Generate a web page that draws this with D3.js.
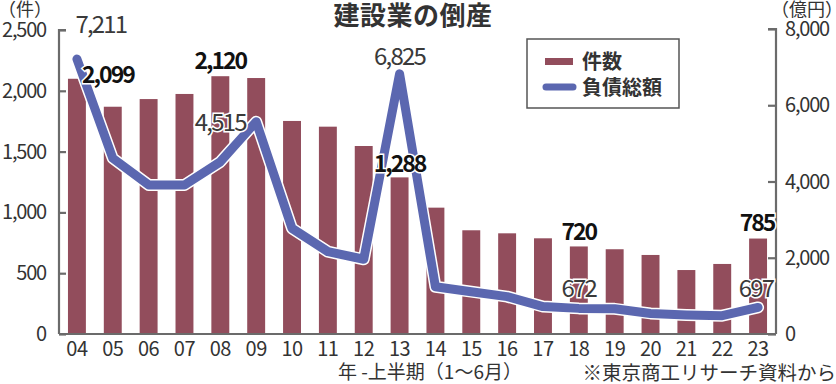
<!DOCTYPE html>
<html><head><meta charset="utf-8">
<script src="https://cdn.jsdelivr.net/npm/d3@7"></script>
<style>
body{margin:0;background:#fff;}
svg{display:block;}
text{font-family:"Noto Sans CJK JP","Noto Sans",sans-serif;}
</style></head><body>
<svg id="c" width="836" height="384"></svg>
<script>
const years = ["04","05","06","07","08","09","10","11","12","13","14","15","16","17","18","19","20","21","22","23"];
const counts = [2099,1869,1932,1974,2120,2105,1752,1705,1546,1288,1039,853,828,787,720,697,650,526,576,785];
const debts = [7211,4610,3910,3910,4515,5570,2770,2160,1960,6825,1240,1110,980,720,672,660,540,500,480,697];
const leftTicks = [0,500,1000,1500,2000,2500];
const rightTicks = [0,2000,4000,6000,8000];
const countLabelIdx = [0,4,9,14,19];
const debtLabelIdx = [0,4,9,14,19];

const svg = d3.select("#c");
const x = d3.scaleBand().domain(years).range([59,776]).paddingInner(0.5).paddingOuter(0.25);
const yL = d3.scaleLinear().domain([0,2500]).range([334,30]);
const yR = d3.scaleLinear().domain([0,8000]).range([334,29]);
const barColor = "#924d5c", lineColor = "#5b67b0", axisColor = "#6b6b6b", txt = "#333";

// bars
svg.append("g").selectAll("rect").data(counts).join("rect")
  .attr("x",(d,i)=>x(years[i])).attr("width",x.bandwidth())
  .attr("y",d=>yL(d)).attr("height",d=>yL(0)-yL(d)).attr("fill",barColor);

// axes
const gL = svg.append("g").attr("transform","translate(59,0)")
  .call(d3.axisRight(yL).tickValues(leftTicks).tickSize(7).tickFormat(""));
const gR = svg.append("g").attr("transform","translate(776,0)")
  .call(d3.axisLeft(yR).tickValues(rightTicks).tickSize(8).tickFormat(""));
[gL,gR].forEach(g=>{g.select(".domain").attr("stroke",axisColor).attr("stroke-width",2.2);
  g.selectAll(".tick line").attr("stroke",axisColor).attr("stroke-width",2.2);});
gL.select(".domain").attr("d","M7,30H0V334");
gR.select(".domain").attr("d","M-8,29H0V334");
svg.append("line").attr("x1",59).attr("x2",776).attr("y1",334).attr("y2",334).attr("stroke",axisColor).attr("stroke-width",2.2);

const fmt = d3.format(",");
svg.append("g").selectAll("text").data(leftTicks).join("text")
  .attr("x",46).attr("y",d=>yL(d)+7).attr("text-anchor","end")
  .attr("font-size",20).attr("fill",txt).attr("letter-spacing",-1.2).text(d=>fmt(d));
svg.append("g").selectAll("text").data(rightTicks).join("text")
  .attr("x",785).attr("y",d=>yR(d)+7).attr("text-anchor","start")
  .attr("font-size",20).attr("fill",txt).attr("letter-spacing",-1.2).text(d=>fmt(d));
svg.append("g").selectAll("text").data(years).join("text")
  .attr("x",d=>x(d)+x.bandwidth()/2).attr("y",356).attr("text-anchor","middle")
  .attr("font-size",20).attr("fill",txt).attr("letter-spacing",-0.5).text(d=>d);

// line
const line = d3.line().x((d,i)=>x(years[i])+x.bandwidth()/2).y(d=>yR(d)).curve(d3.curveLinear);
svg.append("path").datum(debts).attr("d",line).attr("fill","none")
  .attr("stroke","#fff").attr("stroke-width",12).attr("stroke-linejoin","round").attr("stroke-linecap","round");
svg.append("path").datum(debts).attr("d",line).attr("fill","none")
  .attr("stroke",lineColor).attr("stroke-width",9).attr("stroke-linejoin","round").attr("stroke-linecap","round");

// labels
const debtOff = [[24,-26],[0,-31],[0,-9],[0,-11],[-2,-10]];
debtLabelIdx.forEach((i,k)=>{
  svg.append("text").attr("x",x(years[i])+x.bandwidth()/2+debtOff[k][0]).attr("y",yR(debts[i])+debtOff[k][1])
    .attr("text-anchor","middle").attr("font-size",24).attr("letter-spacing",-1.8)
    .attr("fill","#3a3a3a").attr("stroke","#fff").attr("stroke-width",3).attr("paint-order","stroke")
    .text(fmt(debts[i]));
});
const cntOff = [[31,4],[0,-7],[0,-5],[0,-6],[-1,-8]];
countLabelIdx.forEach((i,k)=>{
  svg.append("text").attr("x",x(years[i])+x.bandwidth()/2+cntOff[k][0]).attr("y",yL(counts[i])+cntOff[k][1])
    .attr("text-anchor","middle").attr("font-size",23).attr("font-weight","bold").attr("letter-spacing",-2)
    .attr("fill","#111").attr("stroke","#fff").attr("stroke-width",3).attr("paint-order","stroke")
    .text(fmt(counts[i]));
});

// title & units
svg.append("text").attr("x",413).attr("y",25).attr("text-anchor","middle").attr("font-size",26)
  .attr("font-weight","bold").attr("fill","#333").attr("letter-spacing",0.5).text("建設業の倒産");
svg.append("text").attr("x",-2).attr("y",16).attr("font-size",18).attr("fill",txt).text("（件）");
svg.append("text").attr("x",771).attr("y",16).attr("font-size",18).attr("fill",txt).text("（億円）");
svg.append("text").attr("x",338).attr("y",379).attr("font-size",19).attr("fill",txt).text("年 -上半期（1〜6月）");
svg.append("text").attr("x",836).attr("y",380).attr("text-anchor","end").attr("font-size",19.5).attr("fill",txt).text("※東京商工リサーチ資料から");

// legend
const lg = svg.append("g");
lg.append("rect").attr("x",527).attr("y",39).attr("width",152).attr("height",69).attr("fill","#fff").attr("stroke","#555").attr("stroke-width",1.5);
lg.append("rect").attr("x",545).attr("y",58).attr("width",28).attr("height",7).attr("fill",barColor);
lg.append("line").attr("x1",546).attr("x2",573).attr("y1",87).attr("y2",87).attr("stroke",lineColor).attr("stroke-width",7).attr("stroke-linecap","round");
lg.append("text").attr("x",582).attr("y",69).attr("font-size",20).attr("font-weight","bold").attr("fill","#333").text("件数");
lg.append("text").attr("x",582).attr("y",95).attr("font-size",20).attr("font-weight","bold").attr("fill","#333").text("負債総額");
</script></body></html>
